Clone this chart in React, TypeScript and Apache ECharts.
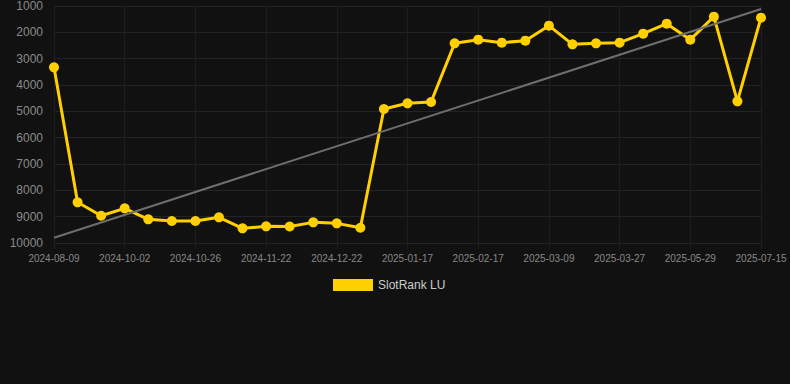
import React, { useEffect, useRef } from "react";
import * as echarts from "echarts";

const dates = [
  "2024-08-09", "2024-08-27", "2024-09-14", "2024-10-02", "2024-10-10", "2024-10-18",
  "2024-10-26", "2024-11-04", "2024-11-13", "2024-11-22", "2024-12-02", "2024-12-12",
  "2024-12-22", "2024-12-31", "2025-01-08", "2025-01-17", "2025-01-27", "2025-02-06",
  "2025-02-17", "2025-02-24", "2025-03-02", "2025-03-09", "2025-03-15", "2025-03-21",
  "2025-03-27", "2025-04-17", "2025-05-08", "2025-05-29", "2025-06-14", "2025-06-30",
  "2025-07-15",
];

const ranks = [
  3330, 8455, 8964, 8684, 9102, 9166, 9166, 9026, 9444, 9368, 9375, 9216, 9254, 9420,
  4912, 4696, 4646, 2418, 2278, 2392, 2316, 1747, 2456, 2418, 2392, 2051, 1671, 2278,
  1405, 4620, 1443,
];

const trendStart = 9800;
const trendEnd = 1114;

const seriesName = "SlotRank LU";

const FONT = "Arial, 'Liberation Sans', sans-serif";

export default function App() {
  const ref = useRef<HTMLDivElement>(null);
  useEffect(() => {
    document.body.style.margin = "0";
    document.body.style.background = "#111111";
    const chart = echarts.init(ref.current!, null, { renderer: "svg" });
    chart.setOption({
      animation: false,
      backgroundColor: "#111111",
      grid: { left: 54, right: 29, top: 6, bottom: 141 },
      legend: {
        top: 274,
        left: 328,
        itemWidth: 40,
        itemHeight: 12,
        itemGap: 10,
        icon: "rect",
        textStyle: { color: "#cccccc", fontSize: 12, fontFamily: FONT },
        data: [seriesName],
      },
      xAxis: {
        type: "category",
        data: dates,
        boundaryGap: false,
        axisLine: { show: false },
        axisTick: { show: true, interval: 2, length: 6, lineStyle: { color: "#1e1e1e" } },
        axisLabel: {
          interval: 2,
          color: "#888888",
          fontSize: 10,
          margin: 10,
          fontFamily: FONT,
        },
        splitLine: { show: true, interval: 2, lineStyle: { color: "#1e1e1e", width: 1 } },
      },
      yAxis: {
        type: "value",
        inverse: true,
        min: 1000,
        max: 10000,
        interval: 1000,
        axisLine: { show: false },
        axisTick: { show: false },
        axisLabel: {
          color: "#8a8a8a",
          fontSize: 12,
          margin: 11,
          fontFamily: FONT,
          formatter: (v: number) => String(v),
        },
        splitLine: { lineStyle: { color: "#232323", width: 1 } },
      },
      series: [
        {
          name: seriesName,
          type: "line",
          data: ranks,
          color: "#ffd000",
          lineStyle: { width: 3, color: "#ffd000" },
          symbol: "circle",
          symbolSize: 10,
          itemStyle: { color: "#ffd000" },
          z: 3,
          markLine: {
            silent: true,
            symbol: ["none", "none"],
            label: { show: false },
            lineStyle: { color: "#6e6e6e", width: 2, type: "solid" },
            data: [
              [
                { coord: [dates[0], trendStart] },
                { coord: [dates[dates.length - 1], trendEnd] },
              ],
            ],
          },
        },
      ],
    });
    return () => chart.dispose();
  }, []);
  return <div ref={ref} style={{ width: 790, height: 384 }} />;
}
